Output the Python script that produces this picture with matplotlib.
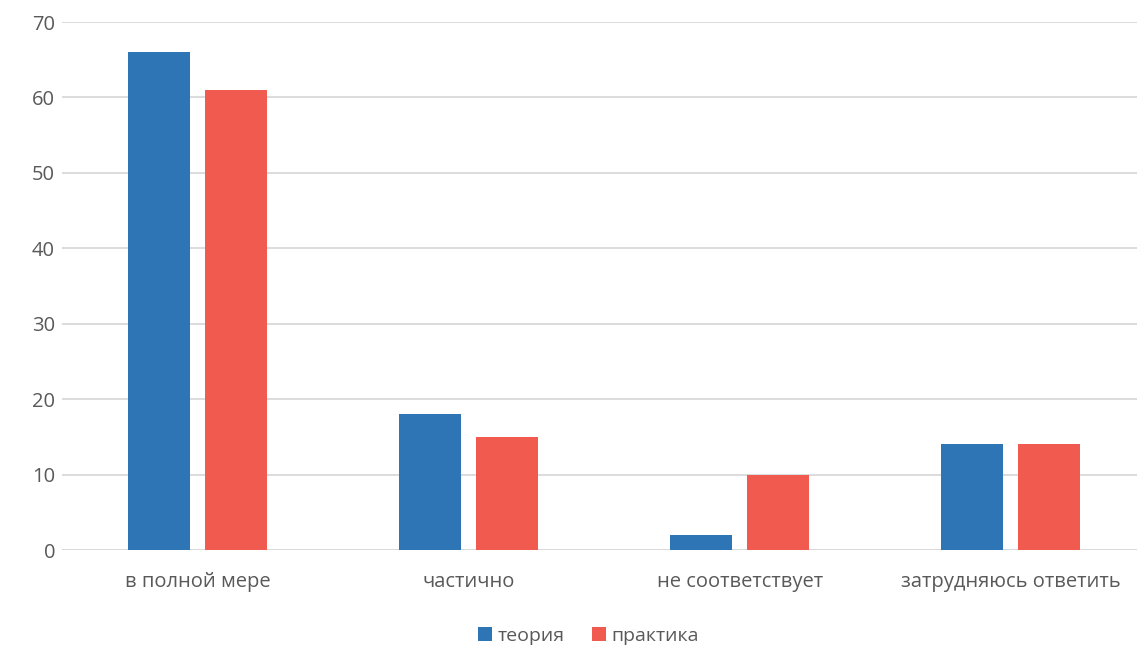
import matplotlib.pyplot as plt
import numpy as np

categories = ['в полной мере', 'частично', 'не соответствует', 'затрудняюсь ответить']
teoriya = [66, 18, 2, 14]
praktika = [61, 15, 10, 14]
series_names = ['теория', 'практика']

plt.rcParams['font.family'] = ['Open Sans', 'DejaVu Sans']
text_color = '#595959'

fig = plt.figure(figsize=(11.37, 6.45), dpi=100)
ax = fig.add_axes([62 / 1137, 1 - 550 / 645, 1 - 62 / 1137, (550 - 22) / 645])

x = np.arange(len(categories))
w = 0.229
off = 0.142
ax.bar(x - off, teoriya, width=w, color='#2E75B6', label=series_names[0], zorder=3)
ax.bar(x + off, praktika, width=w, color='#F15A4F', label=series_names[1], zorder=3)

ax.set_ylim(0, 70)
ax.set_yticks(range(0, 71, 10))
ax.set_xlim(-0.5, 3.465)
ax.set_xticks(x)
ax.set_xticklabels(categories)
ax.grid(axis='y', color='#D9D9D9', linewidth=1.3, zorder=0)
for s in ax.spines.values():
    s.set_visible(False)
ax.axhline(0, color='#D9D9D9', linewidth=1.3, zorder=1)
ax.tick_params(axis='both', length=0, colors=text_color, labelsize=14.5)
ax.tick_params(axis='x', pad=16)
ax.tick_params(axis='y', pad=5)

ax.legend(loc='center', bbox_to_anchor=(0.49, -0.163), ncol=2, frameon=False,
          fontsize=14, labelcolor=text_color, handlelength=0.7, handleheight=0.7,
          handletextpad=0.3, columnspacing=1.4)

fig.savefig('out.png', dpi=100)
